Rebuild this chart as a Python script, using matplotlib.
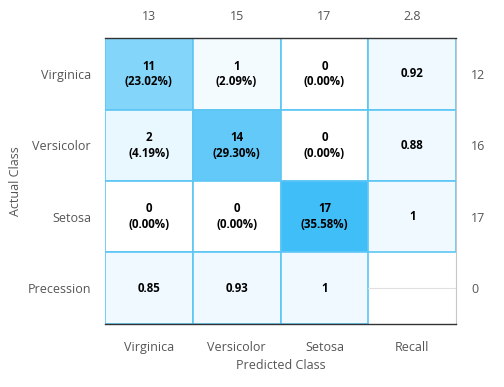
import matplotlib
matplotlib.use("Agg")
import matplotlib.pyplot as plt
import numpy as np
from matplotlib.colors import LinearSegmentedColormap

plt.rcParams["font.family"] = ["Open Sans", "DejaVu Sans"]

# ---------- data ----------
classes = ["Virginica", "Versicolor", "Setosa"]
row_labels = classes + ["Precession"]
col_labels = classes + ["Recall"]
counts = np.array([[11, 1, 0],
                   [2, 14, 0],
                   [0, 0, 17]])
percents = np.array([[23.02, 2.09, 0.00],
                     [4.19, 29.30, 0.00],
                     [0.00, 0.00, 35.58]])
recall = [0.92, 0.88, 1]
precision = [0.85, 0.93, 1]
top_labels = ["13", "15", "17", "2.8"]
right_labels = ["12", "16", "17", "0"]

# ---------- figure ----------
fig = plt.figure(figsize=(5.04, 3.87), dpi=100)
ax = fig.add_axes([0.2083, 0.1628, 0.6965, 0.739])

cmap = LinearSegmentedColormap.from_list("blu", ["#ffffff", "#40bef8"])
n = len(classes)
colors = np.ones((n + 1, n + 1, 4))
for i in range(n):
    for j in range(n):
        colors[i, j] = cmap(counts[i, j] / counts.max())
light = matplotlib.colors.to_rgba("#f0f9ff")
for i in range(n):
    colors[i, n] = light
    colors[n, i] = light

# cells (bottom-right left blank)
for i in range(n + 1):
    for j in range(n + 1):
        if i == n and j == n:
            continue
        ax.add_patch(plt.Rectangle((j, i), 1, 1, facecolor=colors[i, j],
                                   edgecolor="#5cc6f5", linewidth=1.2))

ax.plot([n, n + 1], [n + 0.5, n + 0.5], color="#e0e0e0", lw=0.8)

fs = 8.3
for i in range(n):
    for j in range(n):
        ax.text(j + 0.5, i + 0.5, f"{counts[i, j]}\n({percents[i, j]:.2f}%)",
                ha="center", va="center", fontsize=fs, fontweight="bold",
                linespacing=1.25)
    ax.text(n + 0.5, i + 0.5, f"{recall[i]:g}", ha="center", va="center",
            fontsize=fs, fontweight="bold")
    ax.text(i + 0.5, n + 0.5, f"{precision[i]:g}", ha="center", va="center",
            fontsize=fs, fontweight="bold")

ax.set_xlim(0, n + 1)
ax.set_ylim(n + 1, 0)
for s in ["top", "bottom"]:
    ax.spines[s].set_color("#333333")
    ax.spines[s].set_linewidth(1.0)
ax.spines["left"].set_visible(False)
ax.spines["right"].set_color("#c8c8c8")

lab = dict(fontsize=9, color="#555555")
ticks = np.arange(n + 1) + 0.5
ax.set_xticks(ticks, col_labels, **lab)
ax.set_yticks(ticks, row_labels, **lab)
ax.tick_params(axis="x", length=0, pad=12)
ax.tick_params(axis="y", length=0, pad=10)

top = ax.secondary_xaxis("top")
top.set_xticks(ticks, top_labels, **lab)
top.tick_params(length=0, pad=11)
top.spines["top"].set_visible(False)
right = ax.secondary_yaxis("right")
right.set_yticks(ticks, right_labels, **lab)
right.tick_params(length=0, pad=11)
right.spines["right"].set_visible(False)

ax.set_xlabel("Predicted Class", fontsize=9, color="#555555", labelpad=4)
ax.set_ylabel("Actual Class", fontsize=9, color="#555555")
ax.yaxis.set_label_coords(-0.235, 0.5)

fig.savefig("out.png", dpi=100, facecolor="white")
